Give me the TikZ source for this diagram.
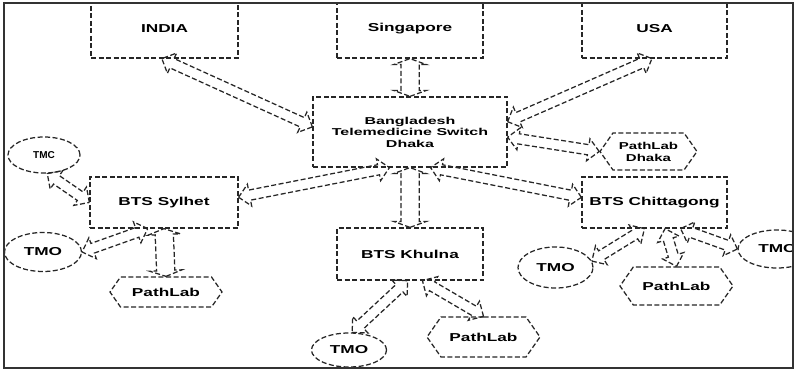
\documentclass[tikz,border=0pt]{standalone}
\usepackage{fontspec}
\setmainfont{Liberation Sans}
\newfontfamily\lbl[FakeStretch=1.5]{Liberation Sans}
\newfontfamily\hubf[FakeStretch=1.6]{Liberation Sans}
\usetikzlibrary{shapes.geometric,shapes.symbols,shapes.arrows,calc}
\tikzset{
  line/.style={draw=black!85, line width=1.25pt, dash pattern=on 5pt off 2.5pt},
  box/.style={line, rectangle, inner sep=0pt, font=\lbl\bfseries\fontsize{11.5}{13}\selectfont},
  oval/.style={line, ellipse, inner sep=0pt, font=\lbl\bfseries\fontsize{11.5}{13}\selectfont},
  hexa/.style={line, signal, signal to=east and west, signal pointer angle=110, inner sep=0pt, font=\lbl\bfseries\fontsize{11.5}{13}\selectfont},
  fatarrow/.style={line, double arrow, inner xsep=0pt, inner ysep=4.5pt, double arrow head extend=6pt, double arrow tip angle=90},
  widearrow/.style={line, double arrow, inner xsep=0pt, inner ysep=8.5pt, double arrow head extend=7pt, double arrow tip angle=140},
}
\newcommand\fatlink[3][fatarrow]{\path let \p1=(#2), \p2=(#3), \n1={veclen(\x2-\x1,\y2-\y1)}, \n2={atan2(\y2-\y1,\x2-\x1)} in ($(\p1)!0.5!(\p2)$) node[#1, minimum height=\n1, rotate=\n2] {};}
\begin{document}
\begin{tikzpicture}[x=1pt,y=-1pt]
\useasboundingbox[fill=white] (0,0) rectangle (797,371);
\begin{scope}
\clip (4,3) rectangle (793,368);
% nodes
\node[box, minimum width=147, minimum height=59] (india) at (164.5,28.5) {INDIA};
\node[box, minimum width=146, minimum height=59] (singapore) at (410,28.5) {Singapore};
\node[box, minimum width=145, minimum height=59] (usa) at (654.5,28.5) {USA};
\node[box, minimum width=194, minimum height=70, align=center, font=\hubf\bfseries\fontsize{10}{11.5}\selectfont] (hub) at (410,132) {Bangladesh\\Telemedicine Switch\\Dhaka};
\node[hexa, minimum width=97, minimum height=37, align=center, font=\lbl\bfseries\fontsize{10}{12}\selectfont] (plD) at (648.5,151.5) {PathLab\\Dhaka};
\node[box, minimum width=148, minimum height=51] (sylhet) at (164,202.5) {BTS Sylhet};
\node[box, minimum width=145, minimum height=51] (chitt) at (654.5,202.5) {BTS Chittagong};
\node[box, minimum width=146, minimum height=52] (khulna) at (410,254) {BTS Khulna};
\node[oval, minimum width=72, minimum height=36, font=\bfseries\fontsize{10}{12}\selectfont] (tmcA) at (44,155) {TMC};
\node[oval, minimum width=77, minimum height=39] (tmcB) at (43,252) {TMO};
\node[hexa, minimum width=112, minimum height=30] (plS) at (166,292) {PathLab};
\node[oval, minimum width=75, minimum height=34] (tmoA) at (349,350) {TMO};
\node[hexa, minimum width=113, minimum height=40] (plK) at (483.5,337) {PathLab};
\node[oval, minimum width=75, minimum height=41] (tmoB) at (555.5,267.5) {TMO};
\node[hexa, minimum width=113, minimum height=38] (plC) at (676.5,286) {PathLab};
\node[oval, minimum width=78, minimum height=38] (tmcC) at (777,249) {TMC};
% connectors
\fatlink{india.-95}{hub.177}
\fatlink[widearrow]{singapore.south}{hub.north}
\fatlink{usa.-95}{hub.6}
\fatlink{hub.-3}{plD.west}
\fatlink{hub.240}{sylhet.4}
\fatlink{hub.-60}{chitt.176}
\fatlink[widearrow]{hub.south}{khulna.north}
\fatlink{tmcA.-80}{sylhet.west}
\fatlink{tmcB.east}{sylhet.238}
\fatlink[widearrow]{sylhet.south}{plS.north}
\fatlink{khulna.-95}{tmoA.80}
\fatlink{khulna.-65}{plK.north}
\fatlink{chitt.-111}{tmoB.10}
\fatlink{chitt.-68}{plC.north}
\fatlink{chitt.-45}{tmcC.west}
\end{scope}
\draw[black!80, line width=1.5pt] (4,3) rectangle (793,368);
\end{tikzpicture}
\end{document}
